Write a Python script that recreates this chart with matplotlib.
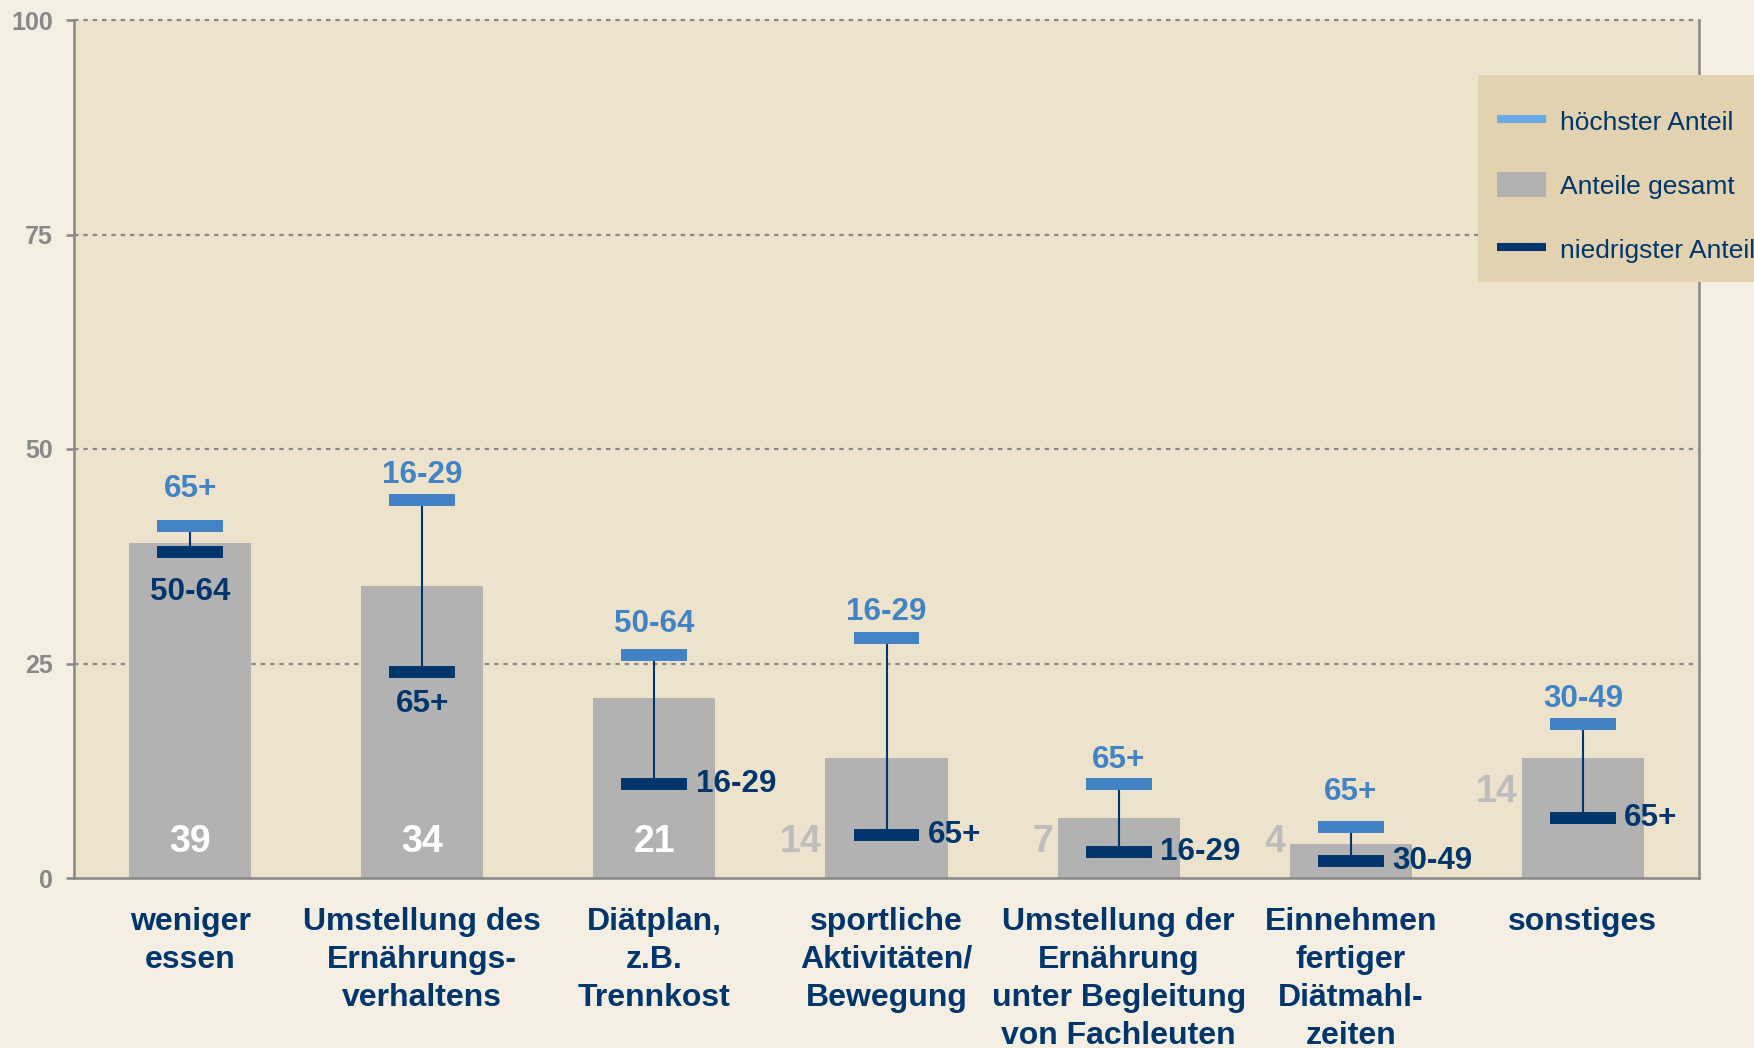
import matplotlib.pyplot as plt
from matplotlib.lines import Line2D
from matplotlib.patches import Patch, Rectangle

plt.rcParams['font.family'] = ['Liberation Sans', 'DejaVu Sans']

categories = ['weniger\nessen',
              'Umstellung des\nErnährungs-\nverhaltens',
              'Diätplan,\nz.B.\nTrennkost',
              'sportliche\nAktivitäten/\nBewegung',
              'Umstellung der\nErnährung\nunter Begleitung\nvon Fachleuten',
              'Einnehmen\nfertiger\nDiätmahl-\nzeiten',
              'sonstiges']
total = [39, 34, 21, 14, 7, 4, 14]
highest = [41, 44, 26, 28, 11, 6, 18]
lowest = [38, 24, 11, 5, 3, 2, 7]
highest_group = ['65+', '16-29', '50-64', '16-29', '65+', '65+', '30-49']
lowest_group = ['50-64', '65+', '16-29', '65+', '16-29', '30-49', '65+']

# layout helpers (not data)
low_side = ['below', 'below', 'right', 'right', 'right', 'right', 'right']
high_off = [26.5, 18.5, 22.5, 18.5, 17, 25, 18]
value_inside = [True, True, True, False, False, False, False]
value_y = [4.2, 4.2, 4.2, 4.2, 4.2, 4.2, 10]

navy = '#00366b'
blue = '#4183c4'
grey_bar = '#b2b2b2'
axis_grey = '#888888'

fig = plt.figure(figsize=(17.54, 10.48), dpi=100)
fig.patch.set_facecolor('#f5eee3')
ax = fig.add_axes([74 / 1754, 170 / 1048, 1625 / 1754, 858 / 1048])
ax.set_facecolor('#ede3cc')

x = list(range(len(categories)))
bw = 0.526
cw = 0.142

for y in [25, 50, 75, 100]:
    ax.axhline(y, color=axis_grey, lw=1.6, ls=(0, (2, 2.2)), zorder=1, clip_on=False)

ax.bar(x, total, width=bw, color=grey_bar, zorder=2)
ax.vlines(x, lowest, highest, color=navy, lw=1.5, zorder=3)
ax.hlines(highest, [i - cw for i in x], [i + cw for i in x], colors=blue, lw=8.6,
          capstyle='butt', zorder=4)
ax.hlines(lowest, [i - cw for i in x], [i + cw for i in x], colors=navy, lw=8.6,
          capstyle='butt', zorder=4)

for i in x:
    ax.annotate(highest_group[i], (i, highest[i]), xytext=(0, high_off[i]), textcoords='offset points',
                ha='center', va='center', fontsize=22.6, fontweight='bold', color=blue, zorder=5)
    if low_side[i] == 'below':
        off = -29 if i == 0 else -23
        ax.annotate(lowest_group[i], (i, lowest[i]), xytext=(0, off), textcoords='offset points',
                    ha='center', va='center', fontsize=22.6, fontweight='bold', color=navy, zorder=5)
    else:
        ax.annotate(lowest_group[i], (i + cw, lowest[i]), xytext=(6, 0), textcoords='offset points',
                    ha='left', va='center', fontsize=22.6, fontweight='bold', color=navy, zorder=5)
    if value_inside[i]:
        ax.text(i, value_y[i], str(total[i]), ha='center', va='center', fontsize=27,
                fontweight='bold', color='white', zorder=5)
    else:
        ax.annotate(str(total[i]), (i - bw / 2, value_y[i]), xytext=(-3, 0), textcoords='offset points',
                    ha='right', va='center', fontsize=27, fontweight='bold', color='#bdbdbd', zorder=5)

ax.set_xlim(-0.5, len(categories) - 0.5)
ax.set_ylim(0, 100)
ax.set_yticks([0, 25, 50, 75, 100])
ax.set_xticks(x)
ax.set_xticklabels(categories, fontsize=23, fontweight='bold', color=navy, linespacing=1.34)
ax.tick_params(axis='x', length=0, pad=21)
ax.tick_params(axis='y', length=6, width=1.8, color=axis_grey, pad=9,
               labelsize=18, labelcolor=axis_grey)
for lab in ax.get_yticklabels():
    lab.set_fontweight('bold')

ax.spines['top'].set_visible(False)
for s in ['left', 'right', 'bottom']:
    ax.spines[s].set_color(axis_grey)
    ax.spines[s].set_linewidth(1.8)

# legend box reaches past the right edge, as in the original
fig.add_artist(Rectangle((1478 / 1754, 1 - 282 / 1048), 300 / 1754, 207 / 1048,
                         transform=fig.transFigure, facecolor='#e3d2b0', edgecolor='none', zorder=1))
handles = [Line2D([], [], color='#6aaae6', lw=5.8, solid_capstyle='butt'),
           Patch(facecolor=grey_bar, edgecolor='none'),
           Line2D([], [], color=navy, lw=5.8, solid_capstyle='butt')]
labels = ['höchster Anteil', 'Anteile gesamt', 'niedrigster Anteil']
leg = fig.legend(handles, labels, loc='upper left', bbox_to_anchor=(1497 / 1754, 1 - 108 / 1048),
                 fontsize=19, frameon=False, borderpad=0, labelspacing=1.42,
                 handlelength=1.85, handleheight=1.1, handletextpad=0.55, borderaxespad=0)
for t in leg.get_texts():
    t.set_color(navy)

fig.savefig('out.png', dpi=100, facecolor=fig.get_facecolor())
